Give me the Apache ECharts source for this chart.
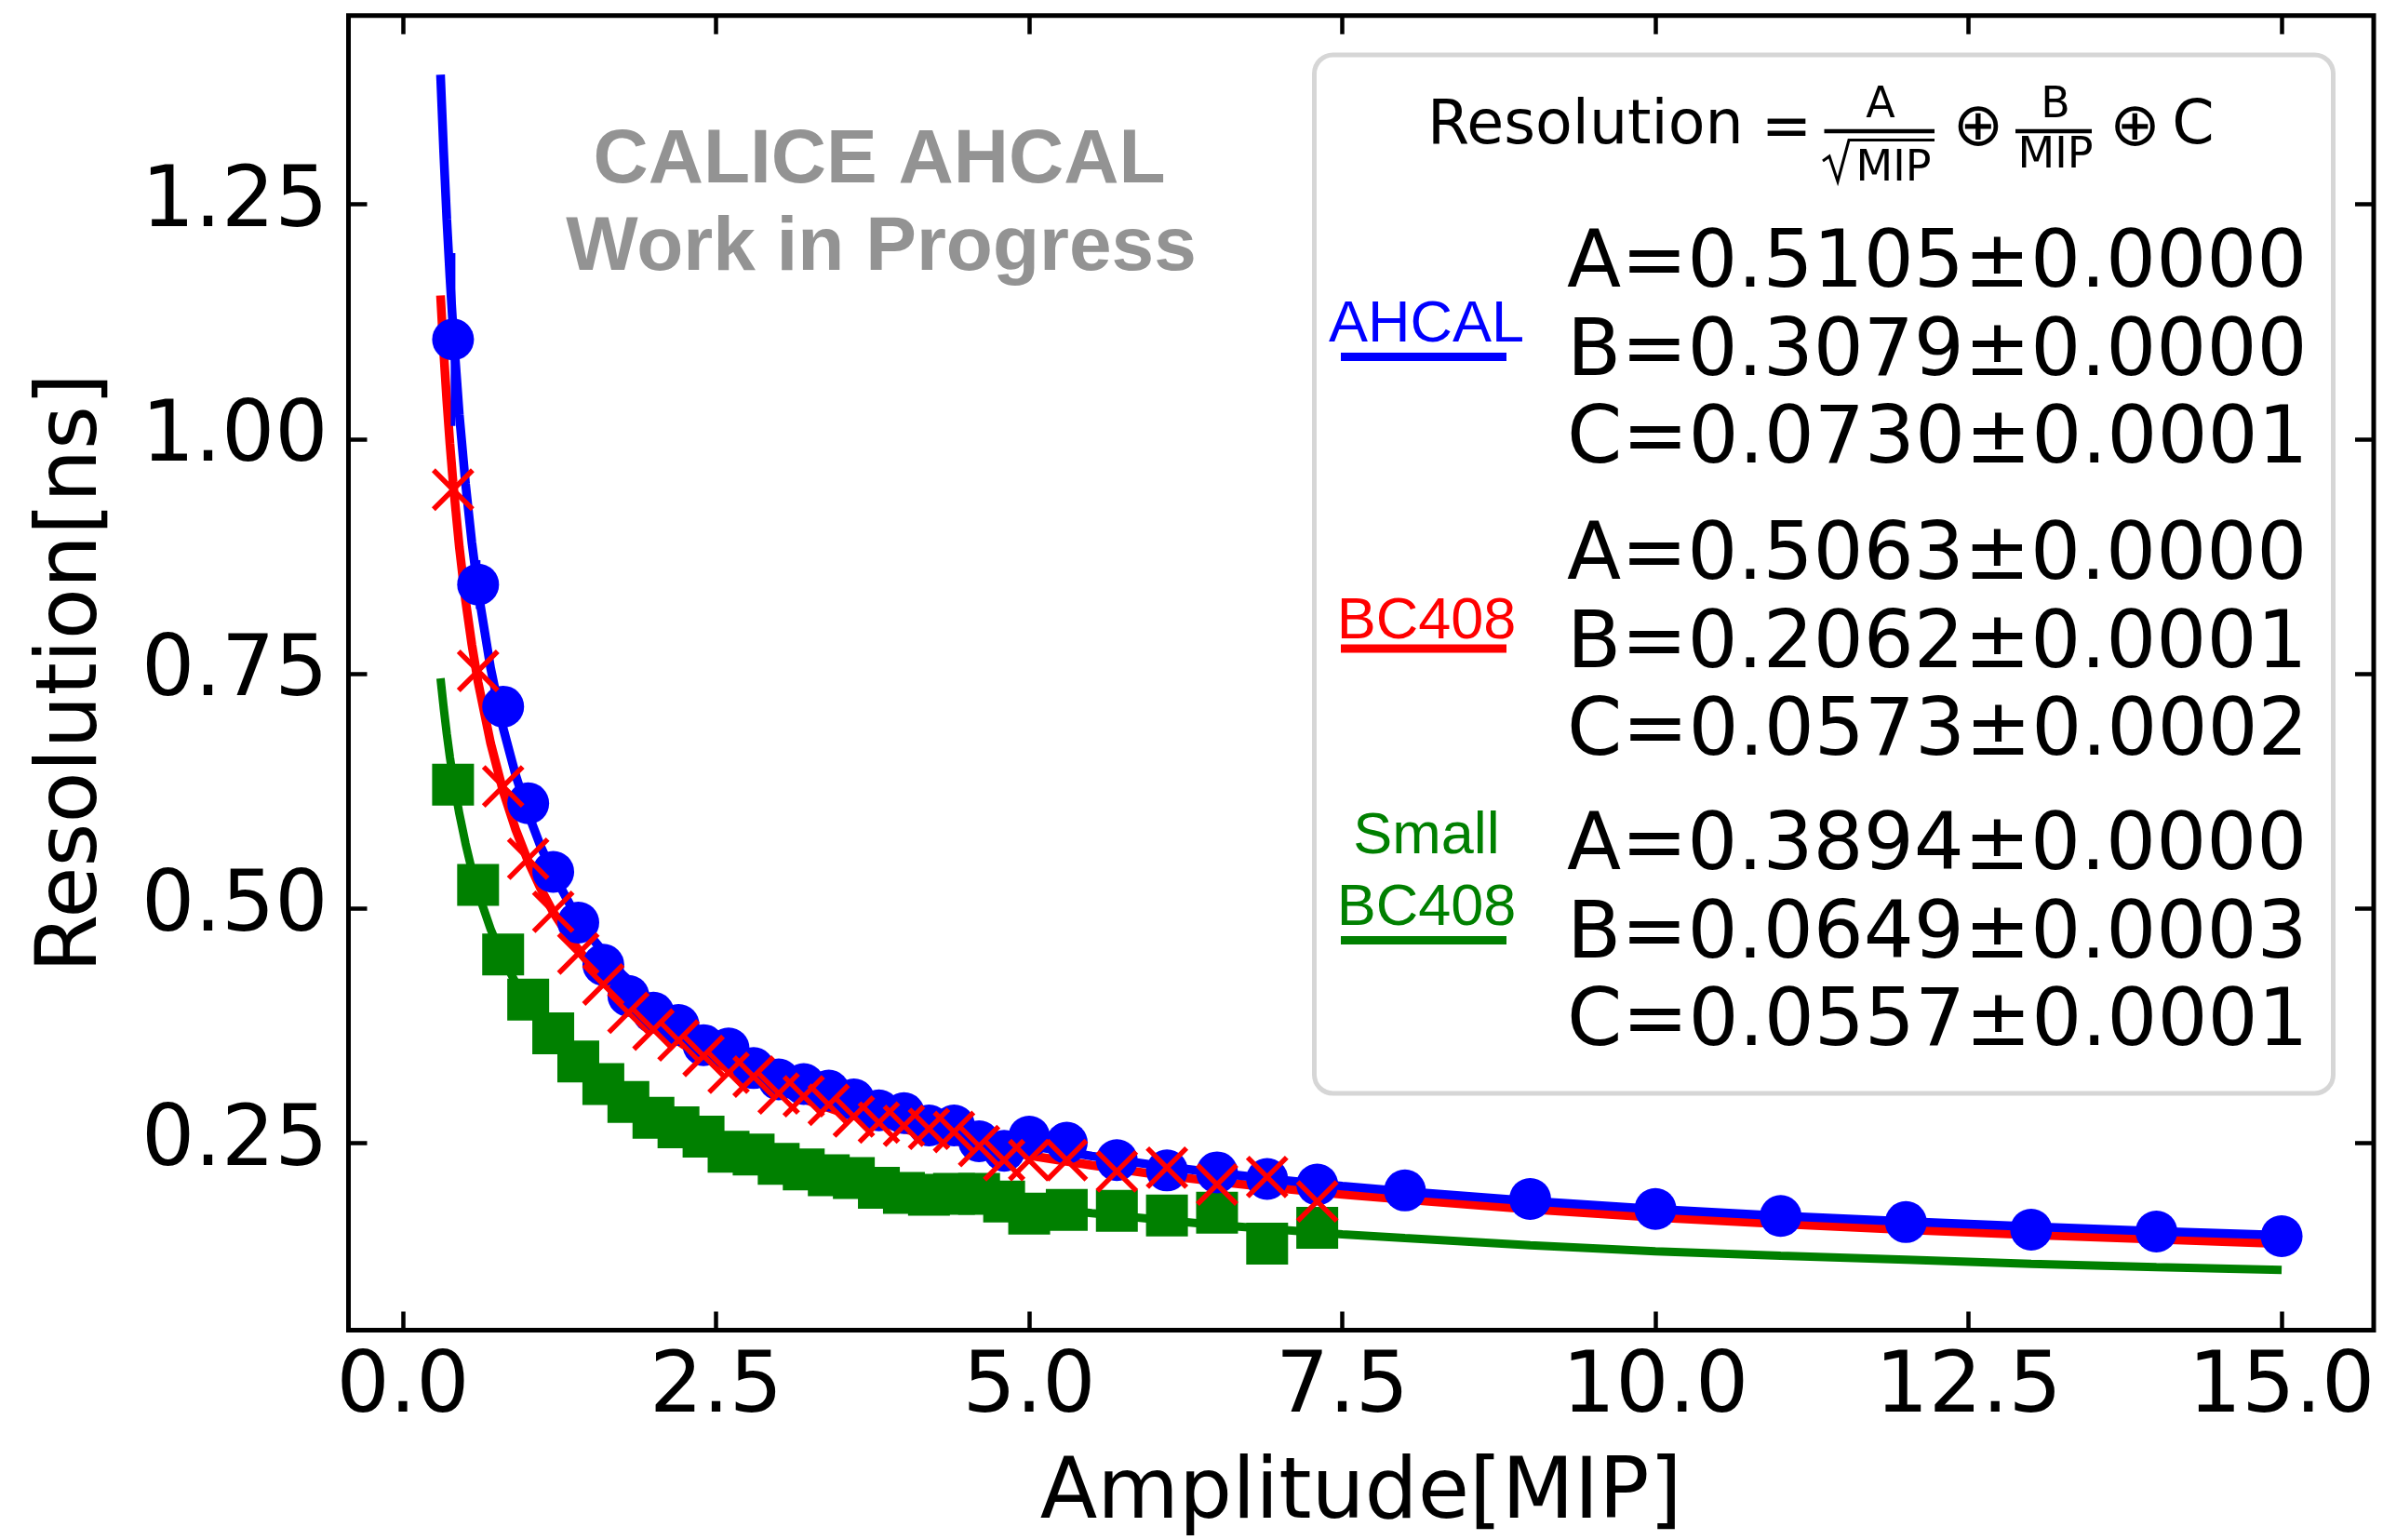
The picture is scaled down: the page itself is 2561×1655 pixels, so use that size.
<!DOCTYPE html>
<html>
<head>
<meta charset="utf-8">
<script src="https://cdn.jsdelivr.net/npm/echarts@6/dist/echarts.min.js"></script>
<style>
html,body{margin:0;padding:0;background:#fff;}
#chart{width:2561px;height:1655px;}
</style>
</head>
<body>
<div id="chart"></div>
<script>
// ---------- data ----------
const xTicks = [0, 2.5, 5, 7.5, 10, 12.5, 15];
const yTicks = [0.25, 0.5, 0.75, 1.0, 1.25];

// AHCAL (blue circles)
const ahcalX = [0.4,0.6,0.8,1.0,1.2,1.4,1.6,1.8,2.0,2.2,2.4,2.6,2.8,3.0,3.2,3.4,3.6,3.8,4.0,4.2,4.4,4.6,4.8,5.0,5.3,5.7,6.1,6.5,6.9,7.3,8,9,10,11,12,13,14,15];
const ahcalY = [1.106,0.845,0.715,0.612,0.539,0.485,0.440,0.407,0.389,0.376,0.3545,0.351,0.330,0.318,0.313,0.306,0.2966,0.285,0.282,0.269,0.269,0.252,0.242,0.257,0.2505,0.232,0.221,0.219,0.212,0.206,0.1997,0.1906,0.180,0.1725,0.166,0.158,0.156,0.151];
const ahcalErr = [0.092,0.026,0,0,0,0,0,0,0,0,0,0,0,0,0,0,0,0,0,0,0,0,0,0,0,0,0,0,0,0,0,0,0,0,0,0,0,0];

// BC408 (red crosses)
const bc408X = [0.4,0.6,0.8,1.0,1.2,1.4,1.6,1.8,2.0,2.2,2.4,2.6,2.8,3.0,3.2,3.4,3.6,3.8,4.0,4.2,4.4,4.6,4.8,5.0,5.3,5.7,6.1,6.5,6.9,7.3];
const bc408Y = [0.946,0.753,0.630,0.553,0.4965,0.452,0.419,0.389,0.371,0.3595,0.343,0.325,0.321,0.303,0.300,0.291,0.2785,0.272,0.2686,0.2653,0.262,0.247,0.232,0.232,0.232,0.220,0.224,0.206,0.214,0.188];

// Small BC408 (green squares)
const smallX = [0.4,0.6,0.8,1.0,1.2,1.4,1.6,1.8,2.0,2.2,2.4,2.6,2.8,3.0,3.2,3.4,3.6,3.8,4.0,4.2,4.4,4.6,4.8,5.0,5.3,5.7,6.1,6.5,6.9,7.3];
const smallY = [0.632,0.525,0.451,0.403,0.367,0.337,0.313,0.294,0.277,0.267,0.257,0.241,0.238,0.228,0.222,0.216,0.213,0.2025,0.197,0.195,0.196,0.196,0.188,0.175,0.179,0.178,0.173,0.176,0.143,0.160];

// fit curves
const fitX = [0.3,0.325,0.35,0.375,0.4,0.45,0.5,0.55,0.6,0.7,0.8,0.9,1.0,1.1,1.2,1.35,1.5,1.75,2,2.25,2.5,2.75,3,3.5,4,4.5,5,5.5,6,6.5,7,7.5,8,9,10,11,12,13,14,15];
const ahcalFit = [1.388,1.306,1.234,1.172,1.118,1.026,0.952,0.890,0.838,0.756,0.692,0.642,0.601,0.566,0.537,0.500,0.470,0.430,0.399,0.374,0.353,0.336,0.3205,0.296,0.2764,0.2606,0.2475,0.2363,0.2267,0.2183,0.211,0.2044,0.1985,0.1883,0.1798,0.1726,0.1665,0.1611,0.1563,0.1521];
const bc408Fit = [1.153,1.093,1.041,0.995,0.954,0.885,0.828,0.781,0.741,0.676,0.625,0.584,0.550,0.521,0.496,0.465,0.439,0.4045,0.377,0.354,0.336,0.3196,0.306,0.283,0.265,0.2497,0.237,0.2265,0.217,0.2091,0.202,0.1955,0.190,0.1797,0.171,0.1641,0.158,0.1525,0.1477,0.143];
const smallFit = [0.745,0.714,0.686,0.661,0.639,0.601,0.569,0.541,0.517,0.478,0.446,0.421,0.399,0.380,0.364,0.343,0.326,0.302,0.283,0.267,0.254,0.2425,0.233,0.2163,0.203,0.1924,0.183,0.1755,0.169,0.1629,0.158,0.153,0.149,0.1414,0.135,0.1301,0.126,0.1216,0.1181,0.115];

// legend parameter texts
const ahcalParams = ['A=0.5105\u00b10.0000','B=0.3079\u00b10.0000','C=0.0730\u00b10.0001'];
const bc408Params = ['A=0.5063\u00b10.0000','B=0.2062\u00b10.0001','C=0.0573\u00b10.0002'];
const smallParams = ['A=0.3894\u00b10.0000','B=0.0649\u00b10.0003','C=0.0557\u00b10.0001'];

// ---------- chart ----------
const BLUE = '#0000ff', RED = '#ff0000', GREEN = '#008000';
const zip = (xs, ys) => xs.map((x, i) => [x, ys[i]]);
const DV = "'DejaVu Sans'";
const LS = "'Liberation Sans', Arial";

const chart = echarts.init(document.getElementById('chart'), null, {renderer: 'canvas'});

const XMIN = -0.435, XMAX = 15.735, YMIN = 0.0509, YMAX = 1.4509;

function xAxisDef(pos, showLabel) {
  return {
    type: 'value', position: pos, min: XMIN, max: XMAX,
    splitLine: {show: false},
    axisLine: {show: false, onZero: false},
    axisTick: {show: true, inside: true, length: 20, customValues: xTicks,
               lineStyle: {color: '#000', width: 4.5}},
    axisLabel: {show: showLabel, customValues: xTicks, margin: 19,
                formatter: v => v.toFixed(1),
                fontFamily: DV, fontSize: 90, color: '#000'},
    name: showLabel ? 'Amplitude[MIP]' : '',
    nameLocation: 'middle', nameGap: 133,
    nameTextStyle: {fontFamily: DV, fontSize: 90, color: '#000'}
  };
}
function yAxisDef(pos, showLabel) {
  return {
    type: 'value', position: pos, min: YMIN, max: YMAX,
    splitLine: {show: false},
    axisLine: {show: false, onZero: false},
    axisTick: {show: true, inside: true, length: 20, customValues: yTicks,
               lineStyle: {color: '#000', width: 4.5}},
    axisLabel: {show: showLabel, customValues: yTicks, margin: 22,
                formatter: v => v.toFixed(2),
                fontFamily: DV, fontSize: 90, color: '#000'},
    name: showLabel ? 'Resolution[ns]' : '',
    nameLocation: 'middle', nameGap: 250,
    nameTextStyle: {fontFamily: DV, fontSize: 90, color: '#000'}
  };
}

function txt(x, y, text, font, fill, align) {
  return {type: 'text', x: x, y: y, z: 101,
    style: {text: text, font: font, fill: fill,
            align: align || 'center', verticalAlign: 'middle',
            textAlign: align || 'center', textVerticalAlign: 'middle'}};
}
function seg(x1, y1, x2, y2, color, w) {
  return {type: 'line', z: 101, shape: {x1: x1, y1: y1, x2: x2, y2: y2},
          style: {stroke: color, lineWidth: w}};
}

const graphics = [];
// watermark
graphics.push(txt(945, 173, 'CALICE AHCAL', 'bold 82px ' + LS, '#939393'));
graphics.push(txt(947, 267, 'Work in Progress', 'bold 82px ' + LS, '#939393'));
// legend box
graphics.push({type: 'rect', z: 100,
  shape: {x: 1412.5, y: 59, width: 1095, height: 1116, r: 20},
  style: {fill: '#ffffff', stroke: '#d6d6d6', lineWidth: 5}});
// formula
graphics.push(txt(1534, 137, 'Resolution', '65px ' + DV, '#000', 'left'));
graphics.push(txt(1920, 140, '=', '65px ' + DV, '#000'));
graphics.push(seg(1960.5, 141, 2079, 141, '#000', 4.5));
graphics.push(txt(2021, 114, 'A', '46px ' + DV, '#000'));
graphics.push({type: 'polyline', z: 101,
  shape: {points: [[1959, 173], [1966, 168], [1975, 195], [1987, 150.5], [2079, 150.5]]},
  style: {stroke: '#000', lineWidth: 3, fill: null}});
graphics.push(txt(2035, 182, 'MIP', '46px ' + DV, '#000'));
graphics.push(txt(2126, 139, '\u2295', '65px ' + DV, '#000'));
graphics.push(seg(2166, 141, 2248, 141, '#000', 4.5));
graphics.push(txt(2209, 114, 'B', '46px ' + DV, '#000'));
graphics.push(txt(2209, 168, 'MIP', '46px ' + DV, '#000'));
graphics.push(txt(2294.5, 139, '\u2295', '65px ' + DV, '#000'));
graphics.push(txt(2357, 137, 'C', '65px ' + DV, '#000'));
// legend entries
graphics.push(txt(1533, 350, 'AHCAL', '63px ' + LS, BLUE));
graphics.push(seg(1441, 383.5, 1619, 383.5, BLUE, 9));
graphics.push(txt(1533, 669, 'BC408', '63px ' + LS, RED));
graphics.push(seg(1441, 697, 1619, 697, RED, 9));
graphics.push(txt(1533, 900, 'Small', '63px ' + LS, GREEN));
graphics.push(txt(1533, 977, 'BC408', '63px ' + LS, GREEN));
graphics.push(seg(1441, 1010.5, 1619, 1010.5, GREEN, 9));
const groups = [[ahcalParams, 286], [bc408Params, 600], [smallParams, 912]];
groups.forEach(([lines, y0]) => {
  lines.forEach((t, i) => graphics.push(txt(1684, y0 + i * 94.5, t, '85px ' + DV, '#000', 'left')));
});

const errData = ahcalX.map((x, i) => [x, ahcalY[i], ahcalErr[i]]).filter(d => d[2] > 0);

const option = {
  backgroundColor: '#ffffff',
  animation: false,
  grid: {left: 374.5, right: 10, top: 16.8, bottom: 225.5, containLabel: false,
         outerBoundsMode: 'none',
         show: true, borderColor: '#000', borderWidth: 5, backgroundColor: 'transparent'},
  xAxis: [xAxisDef('bottom', true), xAxisDef('top', false)],
  yAxis: [yAxisDef('left', true), yAxisDef('right', false)],
  series: [
    {name: 'Small BC408 fit', type: 'line', data: zip(fitX, smallFit), showSymbol: false,
     smooth: false, z: 2,
     lineStyle: {color: GREEN, width: 9}, itemStyle: {color: GREEN}},
    {name: 'BC408 fit', type: 'line', data: zip(fitX, bc408Fit), showSymbol: false,
     smooth: false, z: 3,
     lineStyle: {color: RED, width: 9.5}, itemStyle: {color: RED}},
    {name: 'AHCAL fit', type: 'line', data: zip(fitX, ahcalFit), showSymbol: false,
     smooth: false, z: 4,
     lineStyle: {color: BLUE, width: 9.5}, itemStyle: {color: BLUE}},
    {name: 'Small BC408', type: 'scatter', data: zip(smallX, smallY), z: 5,
     symbol: 'rect', symbolSize: 45, itemStyle: {color: GREEN, opacity: 1}},
    {name: 'AHCAL err', type: 'custom', data: errData, z: 6,
     renderItem: (params, api) => {
       const x = api.value(0), y = api.value(1), e = api.value(2);
       const p1 = api.coord([x, y - e]), p2 = api.coord([x, y + e]);
       return {type: 'line', shape: {x1: p1[0], y1: p1[1], x2: p2[0], y2: p2[1]},
               style: {stroke: BLUE, lineWidth: 5}};
     }},
    {name: 'AHCAL', type: 'scatter', data: zip(ahcalX, ahcalY), z: 7,
     symbol: 'circle', symbolSize: 45, itemStyle: {color: BLUE, opacity: 1}},
    {name: 'BC408', type: 'scatter', data: zip(bc408X, bc408Y), z: 8,
     symbol: 'path://M0 0L10 10M10 0L0 10', symbolSize: 42,
     itemStyle: {color: 'rgba(0,0,0,0)', borderColor: RED, borderWidth: 5.5, opacity: 1}}
  ],
  graphic: graphics
};
chart.setOption(option);
</script>
</body>
</html>
